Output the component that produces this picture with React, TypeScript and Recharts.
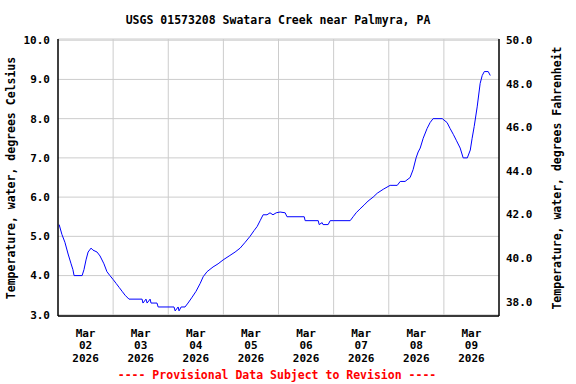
import React from 'react';
import {
  LineChart,
  Line,
  XAxis,
  YAxis,
  CartesianGrid,
  ReferenceLine,
} from 'recharts';

document.body.style.margin = '0';

// hours since Mar 02 2026 00:00
const hours = [
  0.5, 1.7, 3.0, 4.4, 5.7, 6.5, 7.0, 10.5, 11.3, 12.2, 13.1, 14.4, 15.2, 17.0, 18.3, 20.0,
  21.3, 22.6, 24.0, 25.3, 26.6, 27.9, 29.2, 30.9, 36.6, 37.0, 38.3, 38.8, 40.1, 40.5, 43.1,
  43.6, 50.5, 51.0, 52.3, 52.7, 53.6, 55.3, 56.6, 58.4, 60.1, 61.9, 63.2, 64.9, 67.5, 69.7,
  71.9, 74.5, 77.1, 79.3, 81.5, 83.6, 85.4, 86.7, 88.0, 89.3, 91.0, 92.3, 93.6, 95.0, 96.7,
  98.9, 99.7, 107.2, 107.6, 113.3, 113.7, 115.0, 115.4, 117.6, 118.5, 119.8, 127.2, 128.5,
  129.8, 131.5, 133.3, 135.0, 137.2, 139.0, 141.6, 144.6, 147.7, 149.0, 151.1, 153.3, 154.6,
  155.9, 156.8, 157.7, 159.0, 160.7, 162.0, 163.3, 167.3, 169.4, 170.7, 172.1, 173.4, 175.1,
  176.4, 178.2, 179.5, 180.3, 181.2, 182.5, 183.8, 184.7, 185.6, 187.3, 188.2,
];

const tempC = [
  5.3, 5.05, 4.85, 4.55, 4.3, 4.15, 4.0, 4.0, 4.15, 4.4, 4.6, 4.7, 4.65, 4.6, 4.5, 4.3,
  4.1, 4.0, 3.9, 3.8, 3.7, 3.6, 3.5, 3.4, 3.4, 3.3, 3.4, 3.3, 3.4, 3.3, 3.3,
  3.2, 3.2, 3.1, 3.2, 3.1, 3.2, 3.2, 3.3, 3.45, 3.6, 3.8, 3.97, 4.1, 4.22, 4.3,
  4.4, 4.5, 4.6, 4.7, 4.85, 5.0, 5.15, 5.25, 5.4, 5.55, 5.55, 5.6, 5.55, 5.6, 5.62,
  5.6, 5.5, 5.5, 5.4, 5.4, 5.3, 5.35, 5.3, 5.3, 5.4, 5.4, 5.4, 5.5,
  5.6, 5.7, 5.8, 5.9, 6.0, 6.1, 6.2, 6.3, 6.3, 6.4, 6.4, 6.5, 6.7,
  7.0, 7.15, 7.25, 7.5, 7.75, 7.9, 8.0, 8.0, 7.9, 7.75, 7.6, 7.45, 7.25,
  7.0, 7.0, 7.2, 7.5, 7.8, 8.3, 8.9, 9.1, 9.2, 9.2, 9.1,
];

const dayTicks = [12, 36, 60, 84, 108, 132, 156, 180];
const dayNums = ['02', '03', '04', '05', '06', '07', '08', '09'];
const dayGrid = [24, 48, 72, 96, 120, 144, 168];
const celsiusTicks = [3, 4, 5, 6, 7, 8, 9, 10];
const fahrenheitTicks = [38, 40, 42, 44, 46, 48, 50];

const cDomain = [2.97, 10.03];
const fDomain = cDomain.map(c => c * 1.8 + 32);

const data = hours.map((h, i) => ({ h, c: tempC[i] }));

const FONT = '"DejaVu Sans Mono", monospace';

const DayTick = (props: any) => {
  const { x, y, payload } = props;
  const i = dayTicks.indexOf(payload.value);
  return (
    <text x={x} y={y} textAnchor="middle" fontFamily={FONT} fontSize={11} fontWeight="bold" fill="#000">
      <tspan x={x} dy={18.5}>Mar</tspan>
      <tspan x={x} dy={12.5}>{dayNums[i]}</tspan>
      <tspan x={x} dy={12.5}>2026</tspan>
    </text>
  );
};

const tickStyle = { fontFamily: FONT, fontSize: 11, fontWeight: 'bold', fill: '#000' };
const axisLine = { stroke: '#000', strokeWidth: 1.5 };

export default function App() {
  return (
    <div style={{ position: 'relative', width: 576, height: 384, background: '#fff' }}>
      <LineChart width={576} height={384} data={data} margin={{ top: 39, right: 0, bottom: 0, left: 0 }}>
        <CartesianGrid vertical={false} yAxisId="c" stroke="#cccccc" strokeWidth={1} />
        <XAxis
          dataKey="h"
          type="number"
          domain={[0, 192]}
          ticks={dayTicks}
          interval={0}
          tick={<DayTick />}
          tickLine={false}
          tickSize={0}
          height={68}
          axisLine={axisLine}
          allowDataOverflow
        />
        <XAxis
          xAxisId="top"
          orientation="top"
          type="number"
          domain={[0, 192]}
          tick={false}
          tickLine={false}
          height={0}
          axisLine={axisLine}
        />
        <YAxis
          yAxisId="c"
          type="number"
          domain={cDomain}
          ticks={celsiusTicks}
          interval={0}
          tickFormatter={(v: number) => v.toFixed(1)}
          width={58}
          tickLine={false}
          tickSize={0}
          tickMargin={8}
          tick={tickStyle}
          axisLine={axisLine}
          allowDataOverflow
        />
        <YAxis
          yAxisId="f"
          orientation="right"
          type="number"
          domain={fDomain}
          ticks={fahrenheitTicks}
          interval={0}
          tickFormatter={(v: number) => v.toFixed(1)}
          width={77}
          tickLine={false}
          tickSize={0}
          tickMargin={7}
          tick={tickStyle}
          axisLine={axisLine}
          allowDataOverflow
        />
        {dayGrid.map(d => (
          <ReferenceLine key={d} x={d} yAxisId="c" stroke="#cccccc" strokeWidth={1} />
        ))}
        <Line
          yAxisId="c"
          type="linear"
          dataKey="c"
          stroke="#0000ff"
          strokeWidth={1}
          dot={false}
          isAnimationActive={false}
        />
      </LineChart>
      <svg
        width={576}
        height={384}
        style={{ position: 'absolute', left: 0, top: 0, pointerEvents: 'none' }}
        fontFamily={FONT}
        fontWeight="bold"
      >
        <text x={278} y={24} textAnchor="middle" fontSize={11.5} fill="#000">
          USGS 01573208 Swatara Creek near Palmyra, PA
        </text>
        <text x={15} y={178} textAnchor="middle" fontSize={11.5} fill="#000" transform="rotate(-90 15 178)">
          Temperature, water, degrees Celsius
        </text>
        <text x={561} y={178} textAnchor="middle" fontSize={11.5} fill="#000" transform="rotate(-90 561 178)">
          Temperature, water, degrees Fahrenheit
        </text>
        <text x={277} y={379} textAnchor="middle" fontSize={11.5} fill="#ff0000">
          ---- Provisional Data Subject to Revision ----
        </text>
      </svg>
    </div>
  );
}
